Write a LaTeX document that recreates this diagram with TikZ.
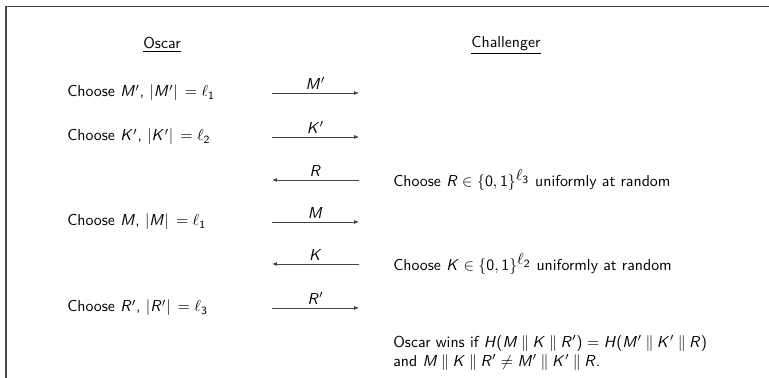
\documentclass[tikz,border=0pt]{standalone}
\usepackage{amsmath,amssymb}
\usetikzlibrary{arrows.meta}
% sans serif math: digits, brackets and letters
\SetSymbolFont{operators}{normal}{OT1}{cmss}{m}{n}
\DeclareSymbolFont{sfit}{OT1}{cmss}{m}{sl}
\DeclareMathSymbol{M}{\mathalpha}{sfit}{`M}
\DeclareMathSymbol{K}{\mathalpha}{sfit}{`K}
\DeclareMathSymbol{R}{\mathalpha}{sfit}{`R}
\DeclareMathSymbol{H}{\mathalpha}{sfit}{`H}
\newcommand{\cat}{\mathbin{\|}}
\definecolor{lineclr}{RGB}{70,70,70}
\tikzset{
  who/.style={font=\sffamily},
  act/.style={anchor=west,inner sep=0pt,font=\sffamily},
  msg/.style={-{Latex[length=1.1mm,width=0.9mm]},draw=lineclr,line width=0.45pt},
  lbl/.style={above,inner sep=2pt,font=\sffamily},
}
\begin{document}
\begin{tikzpicture}[x=0.0222cm,y=-0.0222cm]
\useasboundingbox (0,0) rectangle (769,378);
% frame (cut at right and bottom)
\draw[lineclr,line width=1pt] (6,378) -- (6,6.5) -- (769,6.5);
% parties
\node[who] (oscar) at (162,45) {\underline{Oscar}};
\node[who] (chal)  at (506,45) {\underline{Challenger}};
% Oscar's moves
\node[act] (om1) at (67,93)  {Choose $M'$, $|M'|\, = \ell_1$};
\node[act] (ok1) at (67,137) {Choose $K'$, $|K'|\, = \ell_2$};
\node[act] (om2) at (67,222) {Choose $M$, $|M|\, = \ell_1$};
\node[act] (or2) at (67,308) {Choose $R'$, $|R'|\, = \ell_3$};
% challenger's moves
\node[act] (cr1) at (393,180) {Choose $R \in \{0,1\}^{\textstyle\ell_3}$ uniformly at random};
\node[act] (ck2) at (393,264) {Choose $K \in \{0,1\}^{\textstyle\ell_2}$ uniformly at random};
\node[act,align=left] (win) at (393,353)
  {Oscar wins if $H(M \cat K \cat R') = H(M' \cat K' \cat R)$\\
   and $M \cat K \cat R' \neq M' \cat K' \cat R$.};
% message ends
\foreach \i/\y in {1/93,2/137,3/180,4/222,5/264,6/308}{
  \coordinate (l\i) at (272,\y);
  \coordinate (r\i) at (359,\y);
}
\draw[msg] (l1) -- node[lbl] {$M'$} (r1);
\draw[msg] (l2) -- node[lbl] {$K'$} (r2);
\draw[msg] (r3) -- node[lbl] {$R$}  (l3);
\draw[msg] (l4) -- node[lbl] {$M$}  (r4);
\draw[msg] (r5) -- node[lbl] {$K$}  (l5);
\draw[msg] (l6) -- node[lbl] {$R'$} (r6);
\end{tikzpicture}
\end{document}
